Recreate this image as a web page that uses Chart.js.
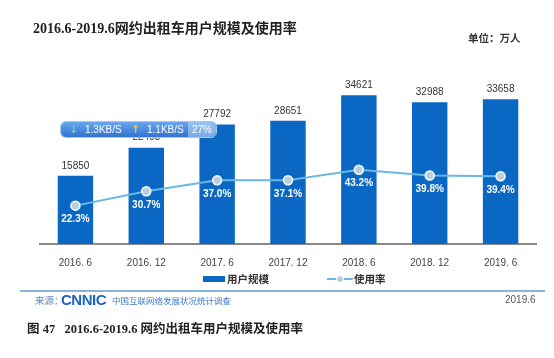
<!DOCTYPE html>
<html>
<head>
<meta charset="utf-8">
<script src="https://cdn.jsdelivr.net/npm/chart.js@4"></script>
<style>
  body { margin: 0; background: #fff; }
  #wrap { position: relative; width: 554px; height: 358px; overflow: hidden; font-family: "Liberation Sans", "Noto Sans CJK SC", sans-serif; }
  #c { position: absolute; left: 0; top: 0; }
  .t { position: absolute; white-space: nowrap; }
</style>
</head>
<body>
<div id="wrap">
  <canvas id="c" width="554" height="358"></canvas>

  <div class="t" style="left:33px;top:21px;font:bold 14px/16px 'Liberation Serif','Noto Sans CJK SC';color:#222;">2016.6-2019.6网约出租车用户规模及使用率</div>
  <div class="t" style="left:468px;top:32px;font:bold 10.5px/12px 'Noto Sans CJK SC';color:#333;">单位：万人</div>

  <!-- legend -->
  <div class="t" style="left:203px;top:276px;width:22px;height:6px;background:#0a67c4;"></div>
  <div class="t" style="left:227px;top:272px;font:bold 10.5px/14px 'Noto Sans CJK SC';color:#333;">用户规模</div>
  <div class="t" style="left:327px;top:278px;width:26px;height:2px;background:#6bb8e4;"></div>
  <div class="t" style="left:336px;top:275px;width:6px;height:6px;border-radius:50%;background:#b8cfe0;border:1px solid #fff;"></div>
  <div class="t" style="left:354px;top:272px;font:bold 10.5px/14px 'Noto Sans CJK SC';color:#333;">使用率</div>

  <!-- footer -->
  <div class="t" style="left:20px;top:290px;width:525px;height:2px;background:#8ab4e0;"></div>
  <div class="t" style="left:35px;top:294px;font:9.5px/12px 'Noto Sans CJK SC';color:#5b86c4;">来源：</div>
  <div class="t" style="left:61px;top:292px;font:bold 15px/16px 'Liberation Sans';color:#1c63c4;letter-spacing:-0.5px;">CNNIC</div>
  <div class="t" style="left:112px;top:295px;font:8.5px/11px 'Noto Sans CJK SC';color:#3d7bd0;">中国互联网络发展状况统计调查</div>
  <div class="t" style="left:505px;top:294px;font:10px/12px 'Liberation Sans';color:#555;">2019.6</div>
  <div class="t" style="left:27px;top:321px;font:bold 12.5px/16px 'Liberation Serif','Noto Sans CJK SC';color:#222;">图 47&nbsp;&nbsp; 2016.6-2019.6 网约出租车用户规模及使用率</div>

  <!-- network speed widget on top of the screenshot -->
  <div class="t" style="left:60px;top:121px;width:155px;height:15px;border-radius:6px;background:linear-gradient(#6aa6ee,#2f74d2);border:1px solid #a9c8f0;font:10px/15px 'Liberation Sans';color:#fff;">
    <span class="t" style="left:8px;color:#6fe06f;font:bold 11px/15px 'DejaVu Sans';">↓</span>
    <span class="t" style="left:24px;">1.3KB/S</span>
    <span class="t" style="left:70px;color:#f4c83a;font:bold 11px/15px 'DejaVu Sans';">↑</span>
    <span class="t" style="left:86px;">1.1KB/S</span>
    <span class="t" style="left:127px;top:0;width:28px;height:15px;border-radius:0 6px 6px 0;background:rgba(190,215,245,0.55);text-align:center;">27%</span>
  </div>
</div>

<script>
const categories = ['2016. 6', '2016. 12', '2017. 6', '2017. 12', '2018. 6', '2018. 12', '2019. 6'];
const users = [15850, 22403, 27792, 28651, 34621, 32988, 33658];   // 用户规模 (万人)
const rates = [22.3, 30.7, 37.0, 37.1, 43.2, 39.8, 39.4];          // 使用率 (%)

// value labels: numbers above the bars, percentages under the points
const valueLabels = {
    id: 'valueLabels',
    afterDatasetsDraw(chart) {
        const ctx = chart.ctx;
        ctx.save();
        ctx.textAlign = 'center';

        ctx.fillStyle = '#333';
        ctx.font = '10px "Liberation Sans"';
        ctx.textBaseline = 'bottom';
        chart.getDatasetMeta(1).data.forEach((bar, i) => {
            ctx.fillText(users[i], bar.x, bar.y - 5);
        });

        ctx.fillStyle = '#fff';
        ctx.font = 'bold 10px "Liberation Sans"';
        ctx.textBaseline = 'middle';
        chart.getDatasetMeta(0).data.forEach((pt, i) => {
            ctx.fillText(rates[i].toFixed(1) + '%', pt.x, pt.y + 14);
        });
        ctx.restore();
    }
};

new Chart(document.getElementById('c'), {
    type: 'bar',
    data: {
        labels: categories,
        datasets: [{
            type: 'line',
            label: '使用率',
            data: rates,
            yAxisID: 'y1',
            borderColor: '#6bb8e4',
            borderWidth: 2,
            pointRadius: 4.5,
            pointBackgroundColor: '#b8cfe0',
            pointBorderColor: '#fff',
            pointBorderWidth: 1.5,
            tension: 0,
            order: 0
        }, {
            label: '用户规模',
            data: users,
            yAxisID: 'y',
            backgroundColor: '#0a67c4',
            categoryPercentage: 0.5,
            barPercentage: 1,
            order: 1
        }]
    },
    options: {
        responsive: false,
        animation: false,
        layout: { padding: { top: 72, left: 40, right: 18, bottom: 84 } },
        plugins: {
            legend: { display: false },
            tooltip: { enabled: false }
        },
        scales: {
            x: {
                grid: { display: false },
                border: { display: true, color: '#8a8a8a', width: 2 },
                ticks: { color: '#444', padding: 5, font: { size: 10, family: 'Liberation Sans' } }
            },
            y: { display: false, min: 0, max: 40000 },
            y1: { display: false, min: 0, max: 100 }
        }
    },
    plugins: [valueLabels]
});
</script>
</body>
</html>
